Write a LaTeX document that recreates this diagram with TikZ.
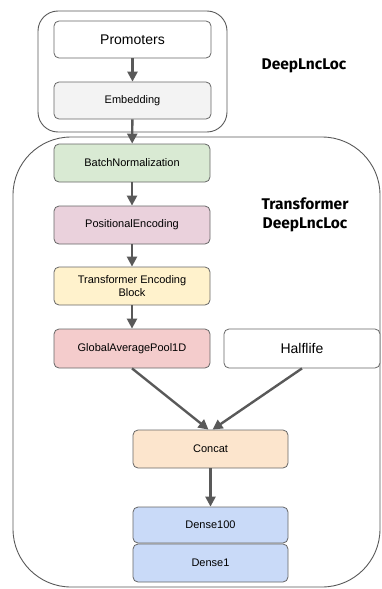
\documentclass[tikz,border=0pt]{standalone}
\usepackage{fontspec}
\setmainfont{Liberation Sans}
\newfontfamily\titlefont{Fira Sans}
\usetikzlibrary{arrows.meta,positioning}
\definecolor{bordegris}{HTML}{666666}
\definecolor{marcogris}{HTML}{595959}
\definecolor{flechagris}{HTML}{595959}
\definecolor{grisclaro}{HTML}{F3F3F3}
\definecolor{verde}{HTML}{D9EAD3}
\definecolor{rosa}{HTML}{EAD1DC}
\definecolor{crema}{HTML}{FFF2CC}
\definecolor{rojizo}{HTML}{F4CCCC}
\definecolor{naranja}{HTML}{FCE5CD}
\definecolor{azulclaro}{HTML}{C9DAF8}

\begin{document}
\begin{tikzpicture}[x=1pt,y=-1pt,>={Triangle[length=10pt,width=10pt]},
      capa/.style={draw=bordegris,line width=0.8pt,rounded corners=5pt,
        minimum width=156pt,minimum height=37pt,inner sep=0pt,align=center,
        font=\fontsize{11}{13}\selectfont},
      flecha/.style={->,draw=flechagris,line width=2.4pt},
      marco/.style={draw=marcogris,line width=0.9pt},
      titulo/.style={font=\titlefont\bfseries\fontsize{15.5}{19}\selectfont,align=center}]
    \useasboundingbox (0,0) rectangle (381,589);
    % outer frames
    \draw[marco,rounded corners=20pt] (38,11) rectangle (227,132);
    \draw[marco,rounded corners=58pt] (13,137) rectangle (380,587);
    \node[titulo] (tdeep) at (304,66) {DeepLncLoc};
    \node[titulo] (ttrans) at (305,215) {Transformer\\DeepLncLoc};
    % layers
    \node[capa,fill=white,minimum width=157pt,font=\fontsize{14}{16}\selectfont] (prom) at (132.5,39.5) {Promoters};
    \node[capa,fill=grisclaro,minimum width=157pt] (emb) at (132.5,100.5) {Embedding};
    \node[capa,fill=verde,minimum height=38pt] (bn) at (132,163) {BatchNormalization};
    \node[capa,fill=rosa,minimum height=38pt] (pe) at (132,225) {PositionalEncoding};
    \node[capa,fill=crema,minimum height=38pt] (teb) at (132,286) {Transformer Encoding\\Block};
    \node[capa,fill=rojizo,minimum height=39pt] (gap) at (132,348.5) {GlobalAveragePool1D};
    \node[capa,fill=white,minimum height=39pt,font=\fontsize{14}{16}\selectfont] (half) at (302,348.5) {Halflife};
    \node[capa,fill=naranja,minimum width=155pt,minimum height=38pt] (cat) at (210.5,449) {Concat};
    \node[capa,fill=azulclaro,minimum width=155pt,minimum height=36pt] (d100) at (210.5,525) {Dense100};
    \node[capa,fill=azulclaro,minimum width=155pt,minimum height=38pt] (d1) at (210.5,563) {Dense1};
    % connectors
    \draw[flecha] (prom) -- (emb);
    \draw[flecha] (emb) -- (bn);
    \draw[flecha] (bn) -- (pe);
    \draw[flecha] (pe) -- (teb);
    \draw[flecha] (teb) -- (gap);
    \draw[flecha] (gap.south) -- ([xshift=-2pt]cat.north);
    \draw[flecha] (half.south) -- ([xshift=2pt]cat.north);
    \draw[flecha] (cat) -- (d100);
  \end{tikzpicture}
\end{document}
